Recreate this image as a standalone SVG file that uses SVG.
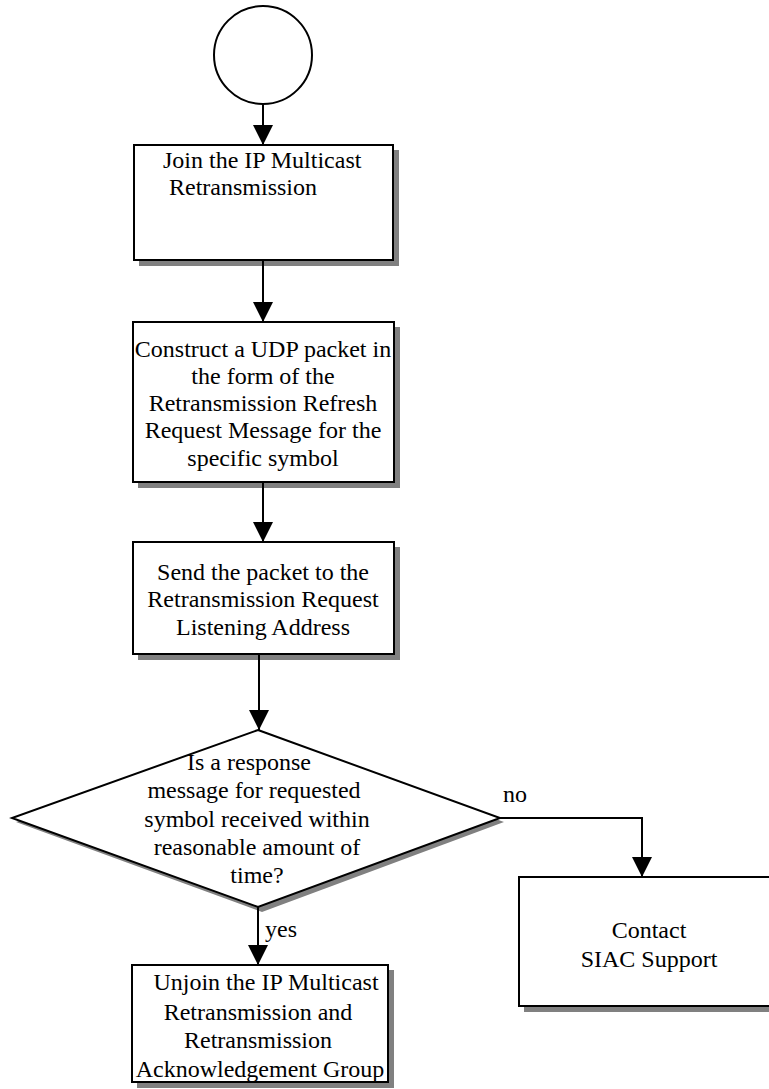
<svg xmlns="http://www.w3.org/2000/svg" width="769" height="1089" viewBox="0 0 769 1089">
  <style>
    .box { fill: #ffffff; stroke: #000000; stroke-width: 2; }
    .shadow { fill: #808080; stroke: none; }
    .edge { fill: none; stroke: #000000; stroke-width: 2; }
    .t { font-family: "Liberation Serif", "Times New Roman", serif; font-size: 24px; fill: #000000; }
    .c { text-anchor: middle; }
  </style>
  <defs>
    <marker id="arrow" markerUnits="userSpaceOnUse" markerWidth="20" markerHeight="20" refX="20" refY="10" orient="auto" viewBox="0 0 20 20">
      <path d="M0,0 L20,10 L0,20 Z" fill="#000000"/>
    </marker>
  </defs>
  <rect width="769" height="1089" fill="#ffffff"/>

  <!-- start terminal -->
  <g id="start">
    <circle class="box" cx="263" cy="55" r="49"/>
  </g>

  <!-- step 1 -->
  <g id="join">
    <rect class="shadow" x="139" y="150" width="260" height="116"/>
    <rect class="box" x="134" y="145" width="259" height="115"/>
    <text class="t" x="163" y="168">Join the IP Multicast</text>
    <text class="t" x="169" y="195">Retransmission</text>
  </g>

  <!-- step 2 -->
  <g id="construct">
    <rect class="shadow" x="138" y="327" width="262" height="161"/>
    <rect class="box" x="133" y="322" width="261" height="160"/>
    <text class="t c" x="263" y="357">Construct a UDP packet in</text>
    <text class="t c" x="263" y="384">the form of the</text>
    <text class="t c" x="263" y="411">Retransmission Refresh</text>
    <text class="t c" x="263" y="438">Request Message for the</text>
    <text class="t c" x="263" y="466">specific symbol</text>
  </g>

  <!-- step 3 -->
  <g id="send">
    <rect class="shadow" x="138" y="547" width="262" height="113"/>
    <rect class="box" x="133" y="542" width="261" height="112"/>
    <text class="t c" x="263" y="580">Send the packet to the</text>
    <text class="t c" x="263" y="607">Retransmission Request</text>
    <text class="t c" x="263" y="635">Listening Address</text>
  </g>

  <!-- decision -->
  <g id="decision">
    <polygon class="shadow" points="262,734 504,822 262,912 16,822"/>
    <polygon class="box" points="258,730 500,818 258,907 12,818"/>
    <text class="t c" x="249" y="770">Is a response</text>
    <text class="t c" x="254" y="798">message for requested</text>
    <text class="t c" x="257" y="827">symbol received within</text>
    <text class="t c" x="257" y="855">reasonable amount of</text>
    <text class="t c" x="257" y="883">time?</text>
  </g>

  <!-- support branch -->
  <g id="contact">
    <rect class="shadow" x="524" y="882" width="262" height="130"/>
    <rect class="box" x="519" y="877" width="261" height="129"/>
    <text class="t c" x="649" y="938">Contact</text>
    <text class="t c" x="649" y="967">SIAC Support</text>
  </g>

  <!-- final step -->
  <g id="unjoin">
    <rect class="shadow" x="137" y="970" width="257" height="118"/>
    <rect class="box" x="132" y="965" width="256" height="117"/>
    <text class="t c" x="266" y="990">Unjoin the IP Multicast</text>
    <text class="t c" x="258" y="1020">Retransmission and</text>
    <text class="t c" x="258" y="1048">Retransmission</text>
    <text class="t c" x="260" y="1077">Acknowledgement Group</text>
  </g>

  <!-- connectors -->
  <g id="connectors">
    <line class="edge" x1="263" y1="104" x2="263" y2="145" marker-end="url(#arrow)"/>
    <line class="edge" x1="263" y1="261" x2="263" y2="322" marker-end="url(#arrow)"/>
    <line class="edge" x1="263" y1="483" x2="263" y2="542" marker-end="url(#arrow)"/>
    <line class="edge" x1="259" y1="655" x2="259" y2="730" marker-end="url(#arrow)"/>
    <polyline class="edge" points="500,818 642,818 642,877" marker-end="url(#arrow)"/>
    <line class="edge" x1="258" y1="907" x2="258" y2="965" marker-end="url(#arrow)"/>
    <text class="t" x="503" y="802">no</text>
    <text class="t" x="265" y="937">yes</text>
  </g>
</svg>
